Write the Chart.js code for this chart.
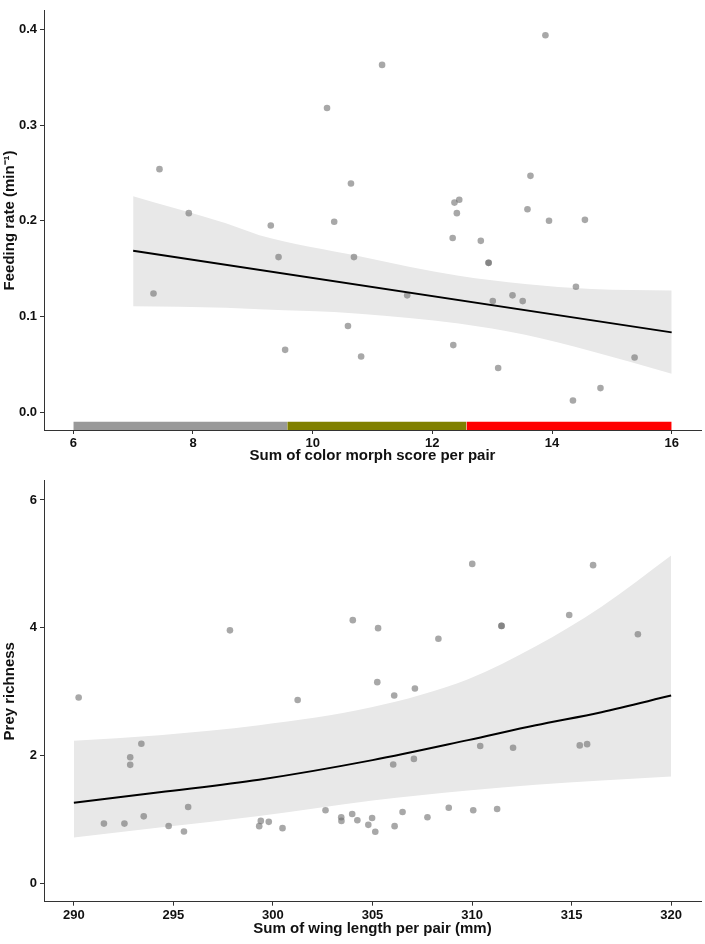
<!DOCTYPE html>
<html>
<head>
<meta charset="utf-8">
<script src="https://cdn.jsdelivr.net/npm/chart.js@4/dist/chart.umd.min.js"></script>
<style>
  html, body { margin: 0; padding: 0; background: #fff; }
  .panel { position: absolute; left: 0; width: 705px; }
  #top { top: 0; height: 470px; }
  #bottom { top: 470px; height: 474px; }
</style>
</head>
<body>
<div class="panel" id="top"><canvas id="feeding-chart"></canvas></div>
<div class="panel" id="bottom"><canvas id="prey-chart"></canvas></div>
<script>
// --- panel A: feeding rate vs colour morph score ---
const morphScore = [7.34, 7.44, 7.93, 9.30, 9.43, 9.54, 10.24, 10.36, 10.59, 10.64, 10.69, 10.81,
    11.16, 11.58, 12.34, 12.35, 12.37, 12.41, 12.45, 12.81, 12.94, 12.94, 13.01, 13.10,
    13.34, 13.51, 13.59, 13.64, 13.89, 13.95, 14.35, 14.40, 14.55, 14.81, 15.38];
const feedingRate = [0.124, 0.254, 0.208, 0.195, 0.162, 0.065, 0.318, 0.199, 0.090, 0.239, 0.162, 0.058,
    0.363, 0.122, 0.182, 0.070, 0.219, 0.208, 0.222, 0.179, 0.156, 0.156, 0.116, 0.046,
    0.122, 0.116, 0.212, 0.247, 0.394, 0.200, 0.012, 0.131, 0.201, 0.025, 0.057];
const feedFitX = [7, 16];
const feedFit = [0.1687, 0.0833];
const feedBandX = [7, 8.55, 9.11, 10.78, 12.44, 13.55, 14.66, 16];
const feedUpper = [0.2257, 0.1973, 0.185, 0.163, 0.1424, 0.1338, 0.1286, 0.127];
const feedLower = [0.1105, 0.109, 0.1074, 0.1029, 0.0926, 0.0807, 0.0635, 0.0401];
const morphBands = [[6, 9.575], [9.575, 12.57], [12.57, 16]];
const morphBandColors = ['#999999', '#808000', '#ff0000'];
const feedTicksY = [0, 0.1, 0.2, 0.3, 0.4];
const feedTicksX = [6, 8, 10, 12, 14, 16];

// --- panel B: prey richness vs wing length ---
const wingLength = [290.24, 291.51, 292.54, 292.83, 292.83, 293.39, 293.51, 294.76, 295.53, 295.74,
    297.84, 299.31, 299.39, 299.79, 300.48, 301.24, 302.64, 303.43, 303.44, 303.98,
    304.01, 304.24, 304.79, 304.98, 305.14, 305.24, 305.28, 306.04, 306.09, 306.11,
    306.51, 307.08, 307.13, 307.76, 308.31, 308.83, 310.01, 310.06, 310.41, 311.26,
    311.48, 311.48, 312.06, 314.88, 315.41, 315.78, 316.08, 318.33];
const preyRichness = [2.91, 0.937, 0.937, 1.974, 1.856, 2.186, 1.05, 0.90, 0.814, 1.196,
    3.96, 0.897, 0.979, 0.964, 0.866, 2.87, 1.145, 1.036, 0.979, 1.087,
    4.12, 0.99, 0.917, 1.025, 0.809, 3.15, 3.995, 1.861, 2.94, 0.897,
    1.118, 1.949, 3.05, 1.036, 3.83, 1.185, 5.0, 1.145, 2.15, 1.165,
    4.03, 4.03, 2.124, 4.20, 2.16, 2.18, 4.98, 3.90];
const preyBandX = [290, 294.3, 299.3, 305, 309.8, 313.2, 316.5, 320];
const preyFit = [1.262, 1.428, 1.624, 1.93, 2.243, 2.475, 2.68, 2.94];
const preyUpper = [2.232, 2.32, 2.475, 2.76, 3.196, 3.71, 4.33, 5.13];
const preyLower = [0.721, 0.876, 1.056, 1.30, 1.455, 1.545, 1.61, 1.675];
const preyTicksY = [0, 2, 4, 6];
const preyTicksX = [290, 295, 300, 305, 310, 315, 320];

const AXIS = '#333333';
const INK = '#111111';
const FAMILY = '"Liberation Sans", Arial, sans-serif';
const pointFill = 'rgba(110, 110, 110, 0.6)';
const bandFill = '#e8e8e8';

function pairs(xs, ys) {
    return xs.map(function (x, i) { return { x: x, y: ys[i] }; });
}

function axis(opts) {
    return {
        type: 'linear',
        min: opts.min,
        max: opts.max,
        border: { display: true, color: AXIS, width: 1 },
        grid: { drawOnChartArea: false, color: AXIS, tickLength: 4, tickWidth: 1 },
        afterBuildTicks: function (scale) {
            scale.ticks = opts.ticks.map(function (v) { return { value: v }; });
        },
        afterFit: function (scale) {
            if (opts.width) scale.width = opts.width;
            if (opts.height) scale.height = opts.height;
        },
        ticks: {
            color: INK,
            padding: opts.tickPad,
            font: { family: FAMILY, size: 13, weight: 'bold' },
            callback: opts.format,
        },
        title: {
            display: true,
            text: opts.title,
            color: INK,
            font: { family: FAMILY, size: 15, weight: 'bold' },
            padding: opts.titlePad,
        },
    };
}

function lineSet(data, extra) {
    return Object.assign({
        type: 'line',
        data: data,
        pointRadius: 0,
        borderWidth: 0,
        borderColor: 'rgba(0,0,0,0)',
        cubicInterpolationMode: 'monotone',
        fill: false,
    }, extra);
}

function baseOptions(xAxis, yAxis, padTop) {
    return {
        responsive: true,
        maintainAspectRatio: false,
        animation: false,
        layout: { padding: { left: 0, top: padTop, right: 2, bottom: 0 } },
        plugins: { legend: { display: false }, tooltip: { enabled: false } },
        scales: { x: xAxis, y: yAxis },
    };
}

// panel A
const feedSets = [
    { type: 'scatter', data: pairs(morphScore, feedingRate), pointRadius: 3.3, borderWidth: 0,
      backgroundColor: pointFill, order: 1 },
    lineSet(pairs(feedFitX, feedFit), { borderColor: '#000', borderWidth: 2, order: 0 }),
    lineSet(pairs(feedBandX, feedLower), { order: 3 }),
    lineSet(pairs(feedBandX, feedUpper), { fill: '-1', backgroundColor: bandFill, order: 2 }),
];
morphBands.forEach(function (b, i) {
    feedSets.push(lineSet([{ x: b[0], y: -0.0103 }, { x: b[1], y: -0.0103 }],
        { fill: 'start', backgroundColor: morphBandColors[i], cubicInterpolationMode: 'default', order: 4 }));
});

new Chart(document.getElementById('feeding-chart'), {
    type: 'scatter',
    data: { datasets: feedSets },
    options: baseOptions(
        axis({ min: 5.51, max: 16.49, ticks: feedTicksX, height: 40, tickPad: 2,
               title: 'Sum of color morph score per pair', titlePad: { top: 0, bottom: 5 },
               format: function (v) { return String(v); } }),
        axis({ min: -0.0188, max: 0.4196, ticks: feedTicksY, width: 44, tickPad: 3,
               title: 'Feeding rate (min\u207B\u00B9)', titlePad: { top: 1, bottom: 0 },
               format: function (v) { return v.toFixed(1); } }),
        4),
});

// panel B
new Chart(document.getElementById('prey-chart'), {
    type: 'scatter',
    data: {
        datasets: [
            { type: 'scatter', data: pairs(wingLength, preyRichness), pointRadius: 3.3, borderWidth: 0,
              backgroundColor: pointFill, order: 1 },
            lineSet(pairs(preyBandX, preyFit), { borderColor: '#000', borderWidth: 2, order: 0 }),
            lineSet(pairs(preyBandX, preyLower), { order: 3 }),
            lineSet(pairs(preyBandX, preyUpper), { fill: '-1', backgroundColor: bandFill, order: 2 }),
        ],
    },
    options: baseOptions(
        axis({ min: 288.5, max: 321.5, ticks: preyTicksX, height: 42.3, tickPad: 2,
               title: 'Sum of wing length per pair (mm)', titlePad: { top: 0, bottom: 6 },
               format: function (v) { return String(v); } }),
        axis({ min: -0.285, max: 6.30, ticks: preyTicksY, width: 44, tickPad: 3,
               title: 'Prey richness', titlePad: { top: 1, bottom: 0 },
               format: function (v) { return String(v); } }),
        6),
});
</script>
</body>
</html>
